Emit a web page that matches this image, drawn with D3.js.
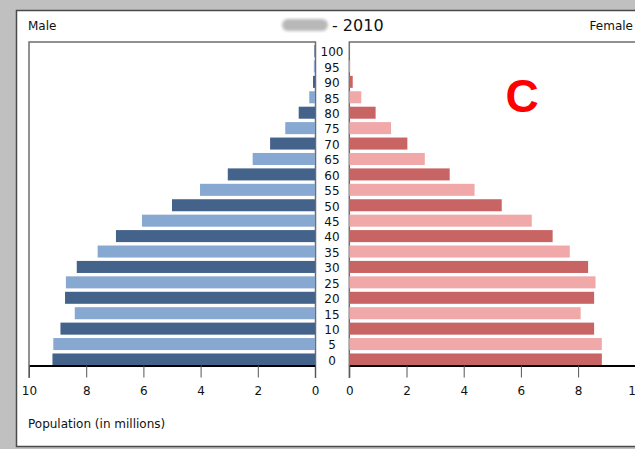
<!DOCTYPE html>
<html><head><meta charset="utf-8">
<script src="https://cdn.jsdelivr.net/npm/d3@7"></script>
<style>
html,body{margin:0;padding:0;background:#c0c0c0;}
svg{display:block;font-family:"DejaVu Sans",sans-serif;}
</style></head>
<body>
<svg id="c" width="635" height="449"></svg>
<script>
// Data (population in millions, 2010)
const ages = [0,5,10,15,20,25,30,35,40,45,50,55,60,65,70,75,80,85,90,95,100];
const male = [9.18,9.15,8.9,8.4,8.74,8.71,8.33,7.6,6.96,6.05,5.0,4.02,3.05,2.18,1.57,1.04,0.57,0.2,0.07,0.04,0.02];
const female = [8.83,8.83,8.56,8.09,8.56,8.61,8.35,7.71,7.11,6.38,5.33,4.38,3.51,2.64,2.03,1.46,0.92,0.42,0.12,0.03,0.01];
const ticksVals = [0,2,4,6,8,10];
const maleColors = ["#44638a","#87a8d0"];
const femaleColors = ["#c96465","#f1a8a9"];

const svg = d3.select("#c");

// panel
svg.append("rect").attr("x",16.5).attr("y",10.5).attr("width",640).attr("height",436)
  .attr("fill","#fff").attr("stroke","#4a4a4a").attr("stroke-width",1.5);

const xL = d3.scaleLinear().domain([0,10]).range([315,29]);
const xR = d3.scaleLinear().domain([0,10]).range([349.3,635.3]);
const y = d3.scaleBand().domain(ages.slice().reverse()).range([45,365.5]).paddingInner(0.22).paddingOuter(0);

// frames
svg.append("path").attr("d",`M29,378V42H315.5V378`).attr("fill","none").attr("stroke","#6e6e6e").attr("stroke-width",1.5);
svg.append("path").attr("d",`M349.3,378V42H640`).attr("fill","none").attr("stroke","#6e6e6e").attr("stroke-width",1.5);

// bars
svg.append("g").selectAll("rect").data(ages).join("rect")
  .attr("x",(d,i)=>xL(male[i])).attr("width",(d,i)=>xL(0)-xL(male[i]))
  .attr("y",d=>y(d)).attr("height",y.bandwidth())
  .attr("fill",(d,i)=>maleColors[i%2]);
svg.append("g").selectAll("rect").data(ages).join("rect")
  .attr("x",xR(0)).attr("width",(d,i)=>xR(female[i])-xR(0))
  .attr("y",d=>y(d)).attr("height",y.bandwidth())
  .attr("fill",(d,i)=>femaleColors[i%2]);

// axes
function styleAxis(g){
  g.select(".domain").attr("stroke","#000").attr("stroke-width",2);
  g.selectAll(".tick line").attr("stroke","#555").attr("stroke-width",1);
  g.selectAll(".tick text").attr("fill","#111").attr("font-size",12).attr("font-family","DejaVu Sans, sans-serif").attr("dy","1.2em");
}
svg.append("g").attr("transform","translate(0,365.5)")
  .call(d3.axisBottom(xL).tickValues(ticksVals).tickSize(12).tickSizeOuter(0).tickFormat(d3.format("d")))
  .call(styleAxis);
svg.append("g").attr("transform","translate(0,365.5)")
  .call(d3.axisBottom(xR).tickValues(ticksVals).tickSize(12).tickSizeOuter(0).tickFormat(d3.format("d")))
  .call(styleAxis);

// age labels
svg.append("g").selectAll("text").data(ages).join("text")
  .attr("x",332).attr("y",d=>y(d)+y.bandwidth()/2+1).attr("dy","0.36em")
  .attr("text-anchor","middle").attr("font-size",12).attr("fill","#111").text(d=>d);

// titles
svg.append("text").attr("x",28).attr("y",30).attr("font-size",12).attr("fill","#111").text("Male");
svg.append("text").attr("x",633).attr("y",30).attr("text-anchor","end").attr("font-size",12).attr("fill","#111").text("Female");
const defs = svg.append("defs");
defs.append("filter").attr("id","blur").append("feGaussianBlur").attr("stdDeviation",1.5);
svg.append("rect").attr("x",282).attr("y",19).attr("width",46).attr("height",12).attr("rx",6)
  .attr("fill","#b8b8b8").attr("filter","url(#blur)");
svg.append("text").attr("x",332).attr("y",31).attr("font-size",16).attr("fill","#111").text("- 2010");
svg.append("text").attr("x",28).attr("y",428).attr("font-size",12).attr("fill","#111").text("Population (in millions)");
svg.append("text").attr("x",522).attr("y",112).attr("text-anchor","middle").attr("font-size",46)
  .attr("font-weight","bold").attr("font-family","Liberation Sans, Arial, sans-serif").attr("fill","#ff0000").text("C");
</script>
</body></html>
